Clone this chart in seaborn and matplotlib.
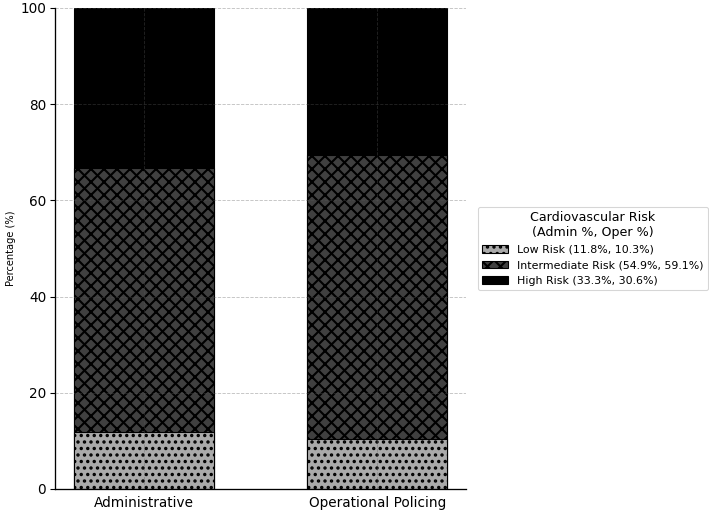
import matplotlib
matplotlib.use("Agg")
import matplotlib.pyplot as plt
import matplotlib.patches as mpatches
import seaborn as sns
import pandas as pd

groups = ["Administrative", "Operational Policing"]
low = [11.8, 10.3]
intermediate = [54.9, 59.1]
high = [33.3, 30.6]
labels = ["Low Risk", "Intermediate Risk", "High Risk"]

sns.set_style("white")
plt.rcParams["font.family"] = ["DejaVu Sans"]
plt.rcParams["hatch.linewidth"] = 1.9
plt.rcParams["hatch.color"] = "black"
plt.rcParams["text.color"] = "black"
plt.rcParams["axes.labelcolor"] = "black"
plt.rcParams["xtick.color"] = "black"
plt.rcParams["ytick.color"] = "black"

DPI = 78.78
fig = plt.figure(figsize=(709 / DPI, 510 / DPI), dpi=DPI)
ax = fig.add_axes([55 / 709, 1 - 489 / 510, (466 - 55) / 709, (489 - 8) / 510])

cum1 = [a for a in low]
cum2 = [a + b for a, b in zip(low, intermediate)]
cum3 = [a + b + c for a, b, c in zip(low, intermediate, high)]

layers = [
    (cum3, "black", ""),
    (cum2, "#404040", "xx"),
    (cum1, "#aaaaaa", ".."),
]
for vals, color, hatch in layers:
    df = pd.DataFrame({"group": groups, "value": vals})
    sns.barplot(data=df, x="group", y="value", color=color, width=0.6,
                edgecolor="black", linewidth=1.0, hatch=hatch, saturation=1,
                ax=ax, zorder=2)

ax.set_ylim(0, 100)
ax.set_xlim(-0.38, 1.38)
ax.set_xlabel("")
ax.set_ylabel("Percentage (%)", fontsize=9, color="black")
ax.tick_params(axis="y", labelsize=12.5, length=4.5, width=1, left=True,
               direction="out", colors="black")
ax.tick_params(axis="x", labelsize=12.5, length=0, pad=6, colors="black")
ax.grid(True, linestyle="--", color="#5b5b5b", alpha=0.38, linewidth=0.8)
ax.set_axisbelow(False)
sns.despine(ax=ax)
for s in ["left", "bottom"]:
    ax.spines[s].set_linewidth(1.2)
    ax.spines[s].set_color("black")

handles = [
    mpatches.Patch(facecolor="#aaaaaa", edgecolor="black", hatch="..",
                   label=f"{labels[0]} ({low[0]}%, {low[1]}%)"),
    mpatches.Patch(facecolor="#404040", edgecolor="black", hatch="xx",
                   label=f"{labels[1]} ({intermediate[0]}%, {intermediate[1]}%)"),
    mpatches.Patch(facecolor="black", edgecolor="black",
                   label=f"{labels[2]} ({high[0]}%, {high[1]}%)"),
]
leg = ax.legend(handles=handles, title="Cardiovascular Risk\n(Admin %, Oper %)",
                loc="center left", bbox_to_anchor=(1.015, 0.5), fontsize=10,
                title_fontsize=11.5, frameon=True, handlelength=2.4)
leg.get_title().set_multialignment("center")
for t in leg.get_texts():
    t.set_color("black")
leg.get_title().set_color("black")

fig.savefig("out.png", dpi=DPI)
